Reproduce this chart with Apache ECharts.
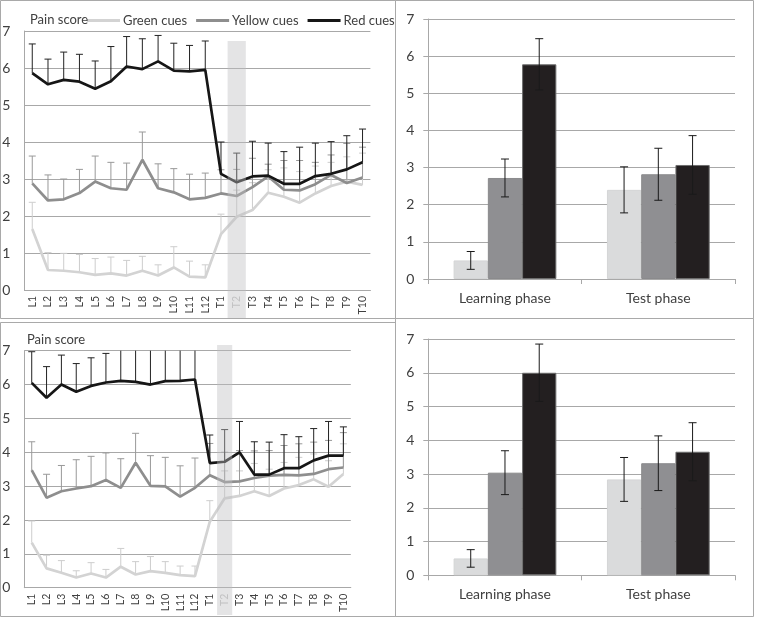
<!DOCTYPE html>
<html><head><meta charset="utf-8">
<script src="https://cdn.jsdelivr.net/npm/echarts@6/dist/echarts.min.js"></script>
<style>html,body{margin:0;padding:0;background:#fff}#c{width:760px;height:622px}</style>
</head><body><div id="c"></div>
<script>
// ---------- data ----------
const trials = ['L1','L2','L3','L4','L5','L6','L7','L8','L9','L10','L11','L12','T1','T2','T3','T4','T5','T6','T7','T8','T9','T10'];
const cueNames = ['Green cues','Yellow cues','Red cues'];
const phases = ['Learning phase','Test phase'];
const yTicks = [0,1,2,3,4,5,6,7];
const highlightTrial = 'T2';

// top line chart: means and upper error-bar ends
const topGreen = [1.65,0.54,0.52,0.48,0.41,0.45,0.39,0.52,0.39,0.61,0.36,0.34,1.51,1.98,2.16,2.63,2.52,2.36,2.61,2.81,2.93,2.84];
const topGreenUp = [2.37,1.01,0.99,0.96,0.85,0.89,0.80,0.91,0.68,1.17,0.78,0.68,2.05,2.70,2.90,3.25,3.30,3.20,3.35,3.45,3.60,3.70];
const topYellow = [2.88,2.42,2.45,2.62,2.93,2.75,2.71,3.52,2.75,2.64,2.45,2.49,2.61,2.54,2.78,3.07,2.71,2.69,2.86,3.11,2.89,3.04];
const topYellowUp = [3.62,3.11,3.00,3.26,3.62,3.45,3.43,4.27,3.41,3.28,3.13,3.16,3.25,3.26,3.56,3.40,3.50,3.50,3.45,3.65,3.96,3.86];
const topRed = [5.86,5.56,5.68,5.63,5.44,5.64,6.04,5.97,6.18,5.93,5.91,5.95,3.14,2.91,3.07,3.09,2.87,2.87,3.08,3.14,3.26,3.45];
const topRedUp = [6.65,6.24,6.43,6.37,6.19,6.58,6.85,6.79,6.88,6.67,6.61,6.73,4.00,3.70,4.02,3.97,3.74,3.86,3.97,4.01,4.17,4.35];
const topBandValue = 6.73;

// bottom line chart
const botGreen = [1.33,0.57,0.44,0.30,0.42,0.30,0.62,0.39,0.49,0.44,0.37,0.34,1.95,2.64,2.71,2.85,2.71,2.93,3.03,3.20,2.98,3.36];
const botGreenUp = [1.97,0.96,0.80,0.50,0.74,0.54,1.16,0.77,0.92,0.77,0.64,0.64,2.57,3.45,3.45,3.67,3.50,3.70,3.85,3.95,3.75,4.25];
const botYellow = [3.47,2.66,2.85,2.93,3.00,3.18,2.95,3.69,3.01,2.99,2.69,2.95,3.32,3.12,3.14,3.24,3.31,3.33,3.32,3.36,3.50,3.55];
const botYellowUp = [4.31,3.35,3.61,3.78,3.88,3.98,3.81,4.56,3.90,3.85,3.60,3.83,4.26,4.00,4.05,4.04,4.05,4.20,4.25,4.30,4.35,4.58];
const botRed = [6.05,5.61,6.00,5.79,5.96,6.06,6.11,6.08,6.00,6.10,6.11,6.15,3.68,3.72,4.00,3.34,3.34,3.53,3.53,3.76,3.90,3.90];
const botRedUp = [6.97,6.53,6.87,6.62,6.79,6.92,7.15,7.20,7.10,7.20,7.10,7.30,4.51,4.67,4.91,4.31,4.30,4.52,4.46,4.70,4.91,4.75];
const botBandValue = 7.17;

// bar charts: [learning, test] per cue, with SE
const barTopGreen = [0.50,2.40],  barTopGreenErr = [0.24,0.62];
const barTopYellow = [2.72,2.82], barTopYellowErr = [0.51,0.70];
const barTopRed = [5.78,3.07],    barTopRedErr = [0.69,0.79];
const barBotGreen = [0.50,2.84],  barBotGreenErr = [0.26,0.65];
const barBotYellow = [3.04,3.32], barBotYellowErr = [0.65,0.81];
const barBotRed = [6.00,3.66],    barBotRedErr = [0.85,0.86];

// ---------- style ----------
const FONT = 'Lato';
const TXT = '#404040';
const GRIDC = '#a8a8a8';
const lineCols = ['#d3d3d3','#8e8e8e','#161616'];
const errCols = ['#cdcdcd','#999999','#222222'];
const barCols = ['#dadbdc','#8f8f92','#231f20'];
const Y_MAX = 7;

const chart = echarts.init(document.getElementById('c'), null, {renderer:'canvas'});

function lineErr(means, ups, gi, k){
  return {
    type:'custom', xAxisIndex:gi, yAxisIndex:gi, z:1, silent:true,
    data: means.map((m,i)=>[i,m,ups[i]]),
    renderItem:(params, api)=>{
      const i = api.value(0), m = api.value(1), u = api.value(2);
      const p0 = api.coord([i,m]);
      const clipped = u > Y_MAX;
      const p1 = api.coord([i, clipped ? Y_MAX : u]);
      const st = {stroke: errCols[k], lineWidth:1};
      const ch = [{type:'line', shape:{x1:p0[0],y1:p0[1],x2:p1[0],y2:p1[1]}, style:st}];
      if(!clipped) ch.push({type:'line', shape:{x1:p1[0]-3.5,y1:p1[1],x2:p1[0]+3.5,y2:p1[1]}, style:st});
      return {type:'group', children:ch};
    }
  };
}
function lineSeries(name, data, gi, k){
  return {name, type:'line', xAxisIndex:gi, yAxisIndex:gi, data, symbol:'none', z:3,
    lineStyle:{color:lineCols[k], width:2.7}, itemStyle:{color:lineCols[k]}};
}
function band(val, gi, bottomPx, wf){
  return {type:'custom', xAxisIndex:gi, yAxisIndex:gi, z:6, silent:true, clip:false,
    data:[[trials.indexOf(highlightTrial), val]],
    renderItem:(params, api)=>{
      const p = api.coord([api.value(0), api.value(1)]);
      const w = api.size([1,0])[0]*wf;
      return {type:'rect', shape:{x:p[0]-w/2, y:p[1], width:w, height:bottomPx-p[1]},
        style:{fill:'rgba(190,190,192,0.42)'}};
    }};
}
function barSeries(name, data, gi, k){
  return {name, type:'bar', xAxisIndex:gi, yAxisIndex:gi, data, barGap:'0%', barCategoryGap:'33%', z:2,
    itemStyle:{color:barCols[k], borderColor: k===2 ? '#6d6d6d' : (k===1 ? '#8a8a8c' : '#d4d5d6'), borderWidth:1}};
}
function barErr(means, errs, gi, k){
  return {type:'custom', xAxisIndex:gi, yAxisIndex:gi, z:4, silent:true,
    data: means.map((m,i)=>[i,m,errs[i]]),
    renderItem:(params, api)=>{
      const i = api.value(0), m = api.value(1), e = api.value(2);
      const bw = api.size([1,0])[0]*(1-0.33)/3;
      const off = (k-1)*bw;
      const a = api.coord([i, m+e]), b = api.coord([i, m-e]);
      const x = a[0]+off;
      const st = {stroke:'#1a1a1a', lineWidth:1};
      return {type:'group', children:[
        {type:'line', shape:{x1:x,y1:a[1],x2:x,y2:b[1]}, style:st},
        {type:'line', shape:{x1:x-4,y1:a[1],x2:x+4,y2:a[1]}, style:st},
        {type:'line', shape:{x1:x-4,y1:b[1],x2:x+4,y2:b[1]}, style:st}
      ]};
    }};
}

function lineX(gi){
  return {type:'category', gridIndex:gi, data:trials, boundaryGap:true,
    axisLine:{show:true, lineStyle:{color:GRIDC, width:1}}, axisTick:{show:false},
    axisLabel:{interval:0, rotate:90, margin:6, fontFamily:FONT, fontSize:10.5,
      color:(v)=> v===highlightTrial ? '#c4c4c4' : TXT}};
}
function lineY(gi){
  return {type:'value', gridIndex:gi, min:yTicks[0], max:yTicks[yTicks.length-1], interval:1,
    axisLine:{show:true, lineStyle:{color:GRIDC}}, axisTick:{show:false},
    splitLine:{lineStyle:{color:GRIDC, width:1}},
    axisLabel:{margin:14, fontFamily:FONT, fontSize:14, color:TXT}};
}
function barX(gi){
  return {type:'category', gridIndex:gi, data:phases,
    axisLine:{show:true, lineStyle:{color:GRIDC}}, axisTick:{show:true, length:5, lineStyle:{color:GRIDC}},
    axisLabel:{margin:12, fontFamily:FONT, fontSize:14, color:TXT}};
}
function barY(gi){
  return {type:'value', gridIndex:gi, min:yTicks[0], max:yTicks[yTicks.length-1], interval:1,
    axisLine:{show:true, lineStyle:{color:GRIDC}}, axisTick:{show:true, length:5, lineStyle:{color:GRIDC}},
    splitLine:{lineStyle:{color:GRIDC, width:1}},
    axisLabel:{margin:14, fontFamily:FONT, fontSize:14, color:TXT}};
}

const panel = (x,y,w,h)=>({type:'rect', silent:true, z:-10, shape:{x,y,width:w,height:h},
  style:{fill:'none', stroke:'#a9a9a9', lineWidth:1}});

const option = {
  animation:false,
  backgroundColor:'#ffffff',
  textStyle:{fontFamily:FONT},
  title:[
    {text:'Pain score', left:28, top:11, padding:2, textStyle:{fontFamily:FONT, fontSize:13, fontWeight:'normal', color:TXT}},
    {text:'Pain score', left:25, top:331, padding:2, textStyle:{fontFamily:FONT, fontSize:13, fontWeight:'normal', color:TXT}}
  ],
  legend:{
    data:cueNames, left:87, top:14, padding:0, itemWidth:33, itemHeight:3, itemGap:9,
    icon:'rect', textStyle:{fontFamily:FONT, fontSize:13, color:TXT, padding:[0,0,0,-2]}
  },
  grid:[
    {left:24.4, top:31, width:346, height:259, outerBoundsMode:'none'},
    {left:24.3, top:350.7, width:326.5, height:237, outerBoundsMode:'none'},
    {left:428.3, top:19, width:306.7, height:260, outerBoundsMode:'none'},
    {left:428.3, top:339, width:306.7, height:236.3, outerBoundsMode:'none'}
  ],
  xAxis:[lineX(0), lineX(1), barX(2), barX(3)],
  yAxis:[lineY(0), lineY(1), barY(2), barY(3)],
  graphic:[
    panel(0.5,0.5,395,318),
    panel(0.5,322.5,395,294),
    panel(395.5,0.5,358,318),
    panel(395.5,318.5,358,298)
  ],
  series:[
    lineErr(topGreen, topGreenUp, 0, 0),
    lineErr(topYellow, topYellowUp, 0, 1),
    lineErr(topRed, topRedUp, 0, 2),
    lineSeries(cueNames[0], topGreen, 0, 0),
    lineSeries(cueNames[1], topYellow, 0, 1),
    lineSeries(cueNames[2], topRed, 0, 2),
    band(topBandValue, 0, 318, 1.16),

    lineErr(botGreen, botGreenUp, 1, 0),
    lineErr(botYellow, botYellowUp, 1, 1),
    lineErr(botRed, botRedUp, 1, 2),
    lineSeries('b'+cueNames[0], botGreen, 1, 0),
    lineSeries('b'+cueNames[1], botYellow, 1, 1),
    lineSeries('b'+cueNames[2], botRed, 1, 2),
    band(botBandValue, 1, 615, 1.02),

    barSeries('g1', barTopGreen, 2, 0),
    barSeries('y1', barTopYellow, 2, 1),
    barSeries('r1', barTopRed, 2, 2),
    barErr(barTopGreen, barTopGreenErr, 2, 0),
    barErr(barTopYellow, barTopYellowErr, 2, 1),
    barErr(barTopRed, barTopRedErr, 2, 2),

    barSeries('g2', barBotGreen, 3, 0),
    barSeries('y2', barBotYellow, 3, 1),
    barSeries('r2', barBotRed, 3, 2),
    barErr(barBotGreen, barBotGreenErr, 3, 0),
    barErr(barBotYellow, barBotYellowErr, 3, 1),
    barErr(barBotRed, barBotRedErr, 3, 2)
  ]
};
chart.setOption(option);
</script>
</body></html>
